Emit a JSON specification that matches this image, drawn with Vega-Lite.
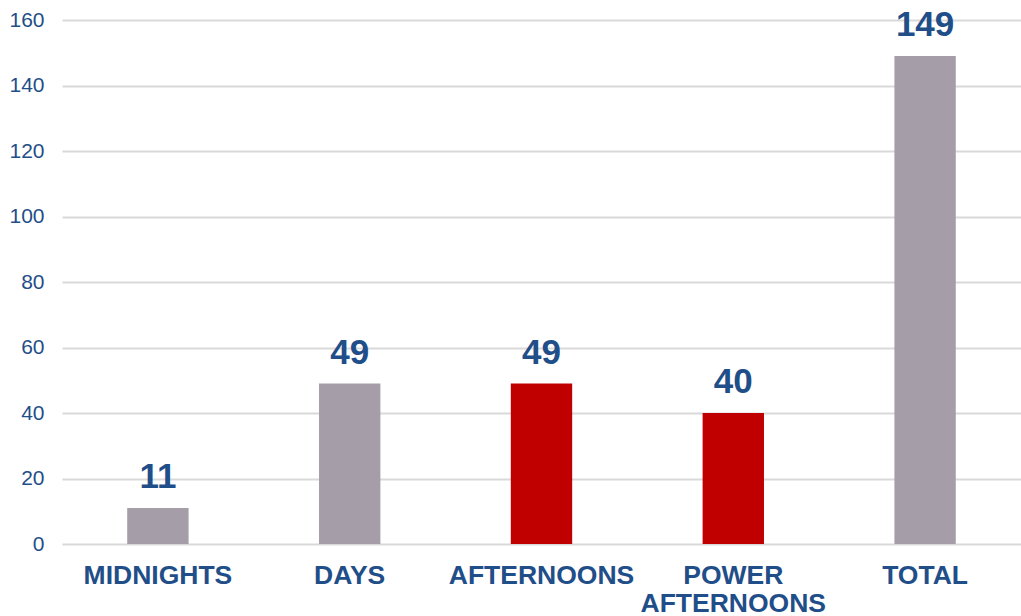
{
  "$schema": "https://vega.github.io/schema/vega-lite/v6.json",
  "width": 959,
  "height": 524,
  "autosize": {"type": "none"},
  "padding": {"left": 62, "top": 20, "right": 0, "bottom": 72},
  "background": "white",
  "config": {"view": {"stroke": null}, "font": "Liberation Sans"},
  "data": {
    "values": [
      {"shift": "MIDNIGHTS", "count": 11, "group": "gray"},
      {"shift": "DAYS", "count": 49, "group": "gray"},
      {"shift": "AFTERNOONS", "count": 49, "group": "red"},
      {"shift": "POWER AFTERNOONS", "count": 40, "group": "red"},
      {"shift": "TOTAL", "count": 149, "group": "gray"}
    ]
  },
  "encoding": {
    "x": {
      "field": "shift",
      "type": "nominal",
      "sort": null,
      "scale": {"paddingInner": 0.68, "paddingOuter": 0.34},
      "axis": {
        "title": null,
        "labelAngle": 0,
        "labelExpr": "split(datum.label, ' ')",
        "labelFont": "Liberation Sans",
        "labelFontWeight": "bold",
        "labelFontSize": 26.5,
        "labelColor": "#1F4E89",
        "labelLineHeight": 28,
        "labelPadding": 18,
        "labelBaseline": "top",
        "labelLimit": 400,
        "labelOverlap": false,
        "ticks": false,
        "domain": false,
        "grid": false
      }
    },
    "y": {
      "field": "count",
      "type": "quantitative",
      "scale": {"domain": [0, 160], "nice": false},
      "axis": {
        "title": null,
        "values": [0, 20, 40, 60, 80, 100, 120, 140, 160],
        "labelFont": "Liberation Sans",
        "labelFontSize": 21,
        "labelColor": "#1F4E89",
        "labelPadding": 18,
        "ticks": false,
        "domain": false,
        "grid": true,
        "gridColor": "#D9D9D9",
        "gridWidth": 2
      }
    }
  },
  "layer": [
    {
      "mark": {"type": "bar"},
      "encoding": {
        "color": {
          "field": "group",
          "type": "nominal",
          "scale": {"domain": ["gray", "red"], "range": ["#A59DA8", "#C00000"]},
          "legend": null
        }
      }
    },
    {
      "mark": {
        "type": "text",
        "baseline": "alphabetic",
        "dy": -20,
        "font": "Liberation Sans",
        "fontWeight": "bold",
        "fontSize": 35,
        "color": "#1F4E89"
      },
      "encoding": {"text": {"field": "count", "type": "quantitative"}}
    }
  ]
}
